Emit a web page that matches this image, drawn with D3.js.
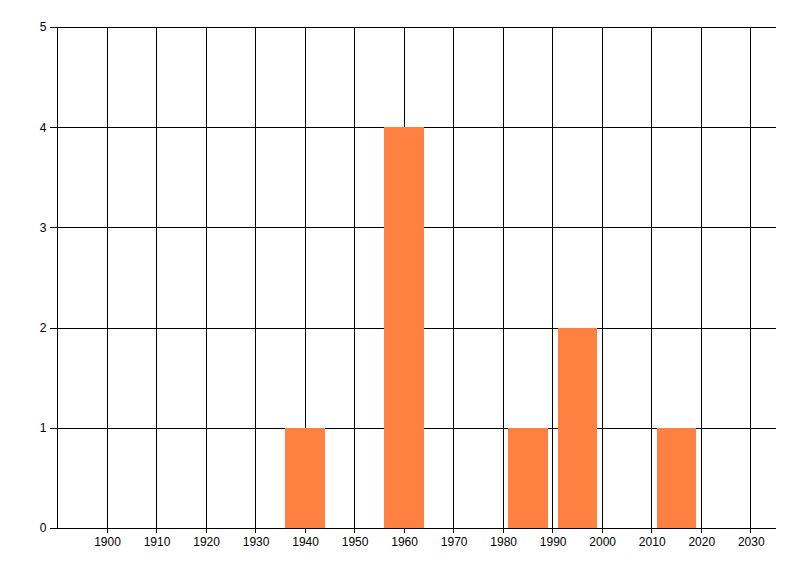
<!DOCTYPE html>
<html>
<head>
<meta charset="utf-8">
<script src="https://cdn.jsdelivr.net/npm/d3@7"></script>
<style>
  body { margin: 0; background: #fff; }
  svg { display: block; }
</style>
</head>
<body>
<svg width="800" height="576"></svg>
<script>
// bar data (decade bins, centre year and count)
var years = [1940, 1960, 1985, 1995, 2015];
var counts = [1, 4, 1, 2, 1];
var xTicks = [1900, 1910, 1920, 1930, 1940, 1950, 1960, 1970, 1980, 1990, 2000, 2010, 2020, 2030];
var yTicks = [0, 1, 2, 3, 4, 5];
var barYears = 8;

var margin = {top: 27, left: 57.5, right: 24.5, bottom: 48},
    width = 800 - margin.left - margin.right,
    height = 576 - margin.top - margin.bottom;

var svg = d3.select("svg")
    .append("g").attr("transform", "translate(" + margin.left + "," + margin.top + ")");

var x = d3.scaleLinear().domain([1890, 2035]).range([0, width]),
    y = d3.scaleLinear().domain([0, 5]).range([height, 0]);

// vertical grid lines
svg.append("g")
    .selectAll("line")
    .data(xTicks)
    .enter().append("line")
    .attr("x1", function(d) { return Math.round(x(d)); })
    .attr("x2", function(d) { return Math.round(x(d)); })
    .attr("y1", 0)
    .attr("y2", height + 5)
    .attr("stroke", "#000")
    .attr("shape-rendering", "crispEdges");

// horizontal grid lines
svg.append("g")
    .selectAll("line")
    .data(yTicks)
    .enter().append("line")
    .attr("x1", -8)
    .attr("x2", width)
    .attr("y1", function(d) { return Math.round(y(d)); })
    .attr("y2", function(d) { return Math.round(y(d)); })
    .attr("stroke", "#000")
    .attr("shape-rendering", "crispEdges");

// bars
svg.append("g")
    .selectAll("rect")
    .data(years)
    .enter().append("rect")
    .attr("x", function(d) { return x(d - barYears / 2); })
    .attr("width", function(d) { return x(d + barYears / 2) - x(d - barYears / 2); })
    .attr("y", function(d, i) { return y(counts[i]); })
    .attr("height", function(d, i) { return y(0) - y(counts[i]); })
    .attr("fill", "#FF8040")
    .attr("shape-rendering", "crispEdges");

// y axis line
svg.append("line")
    .attr("x1", 0).attr("x2", 0)
    .attr("y1", 0).attr("y2", height)
    .attr("stroke", "#000")
    .attr("shape-rendering", "crispEdges");

// x axis (labels only, ticks drawn as grid)
var xAxis = svg.append("g")
    .attr("transform", "translate(0," + height + ")")
    .call(d3.axisBottom(x).tickValues(xTicks).tickFormat(d3.format("d")).tickSize(0).tickPadding(9));
xAxis.select(".domain").remove();
xAxis.selectAll(".tick text")
    .attr("font-family", "'Liberation Sans', Arial, sans-serif")
    .attr("font-size", 12)
    .style("fill", "#000");

// y axis labels
var yAxis = svg.append("g")
    .call(d3.axisLeft(y).tickValues(yTicks).tickFormat(d3.format("d")).tickSize(0).tickPadding(11));
yAxis.select(".domain").remove();
yAxis.selectAll(".tick text")
    .attr("font-family", "'Liberation Sans', Arial, sans-serif")
    .attr("font-size", 12)
    .style("fill", "#000");
</script>
</body>
</html>
